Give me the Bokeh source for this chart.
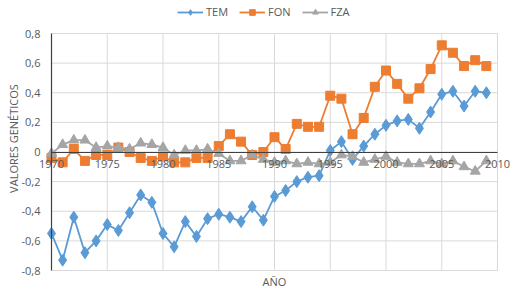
from bokeh.plotting import figure
from bokeh.models import (Range1d, FixedTicker, Legend, LegendItem, LinearAxis, ColumnDataSource)
from bokeh.embed import file_html
from bokeh.resources import INLINE

years = list(range(1970, 2010))
tem = [-0.55, -0.73, -0.44, -0.68, -0.60, -0.49, -0.53, -0.41, -0.29, -0.34,
       -0.55, -0.64, -0.47, -0.57, -0.45, -0.42, -0.44, -0.47, -0.37, -0.46,
       -0.30, -0.26, -0.20, -0.17, -0.16, 0.01, 0.07, -0.05, 0.04, 0.12,
       0.18, 0.21, 0.22, 0.16, 0.27, 0.39, 0.41, 0.31, 0.41, 0.40]
fon = [-0.04, -0.07, 0.02, -0.06, -0.02, -0.02, 0.03, 0.00, -0.04, -0.06,
       -0.03, -0.07, -0.07, -0.04, -0.04, 0.04, 0.12, 0.07, -0.02, 0.00,
       0.10, 0.02, 0.19, 0.17, 0.17, 0.38, 0.36, 0.12, 0.23, 0.44,
       0.55, 0.46, 0.36, 0.43, 0.56, 0.72, 0.67, 0.58, 0.62, 0.58]
fza = [-0.01, 0.05, 0.08, 0.08, 0.03, 0.04, 0.03, 0.02, 0.06, 0.05,
       0.03, -0.02, 0.01, 0.01, 0.02, -0.01, -0.06, -0.06, -0.02, -0.05,
       -0.07, -0.06, -0.08, -0.07, -0.08, -0.07, -0.02, -0.03, -0.07, -0.05,
       -0.03, -0.07, -0.08, -0.08, -0.06, -0.08, -0.06, -0.10, -0.13, -0.06]
x_ticks = [1970, 1975, 1980, 1985, 1990, 1995, 2000, 2005, 2010]
y_ticks = [-0.8, -0.6, -0.4, -0.2, 0.0, 0.2, 0.4, 0.6, 0.8]
y_labels = ["-0,8", "-0,6", "-0,4", "-0,2", "0", "0,2", "0,4", "0,6", "0,8"]
series_names = ["TEM", "FON", "FZA"]
colors = ["#5B9BD5", "#ED7D31", "#A5A5A5"]

FONT = "Open Sans"
GRAY = "#595959"
AXIS = "#404040"
GRID = "#D9D9D9"

X0, X1 = 1970, 2010
Y0, Y1 = -0.8, 0.8
# plot area: x 51..497 px, y 33..270 px inside a 518x292 frame
pxx = (497 - 51) / (X1 - X0)
pxy = (270 - 33) / (Y1 - Y0)
x_range = Range1d(X0 - 51 / pxx, X1 + (518 - 497) / pxx)
y_range = Range1d(Y0 - (292 - 270) / pxy, Y1 + 33 / pxy)

p = figure(width=518, height=292, output_backend="svg", toolbar_location=None,
           x_axis_location=None, y_axis_location=None,
           x_range=x_range, y_range=y_range,
           min_border_left=0, min_border_right=0, min_border_top=0, min_border_bottom=0)
p.outline_line_color = None
p.background_fill_color = "white"
p.border_fill_color = "white"
p.grid.visible = False

# gridlines
nx, ny = len(x_ticks), len(y_ticks)
p.segment(x0=x_ticks, y0=[Y0] * nx, x1=x_ticks, y1=[Y1] * nx,
          line_color=GRID, line_width=1, level="underlay")
p.segment(x0=[X0] * ny, y0=y_ticks, x1=[X1] * ny, y1=y_ticks,
          line_color=GRID, line_width=1, level="underlay")

src = ColumnDataSource(dict(x=years, tem=tem, fon=fon, fza=fza))

l1 = p.line("x", "tem", source=src, line_color=colors[0], line_width=1.8)
m1 = p.scatter("x", "tem", source=src, marker="diamond", size=12, fill_color=colors[0], line_color=colors[0])
l2 = p.line("x", "fon", source=src, line_color=colors[1], line_width=1.8)
m2 = p.scatter("x", "fon", source=src, marker="square", size=9, fill_color=colors[1], line_color=colors[1])
l3 = p.line("x", "fza", source=src, line_color=colors[2], line_width=1.8)
m3 = p.scatter("x", "fza", source=src, marker="triangle", size=10, fill_color=colors[2], line_color=colors[2])

# x axis crossing at y = 0
xa = LinearAxis(fixed_location=0, bounds=(X0, X1), ticker=FixedTicker(ticks=x_ticks))
xa.axis_line_color = AXIS
xa.axis_line_width = 1.2
xa.major_tick_line_color = None
xa.minor_tick_line_color = None
xa.major_tick_out = 0
xa.major_tick_in = 0
xa.major_label_standoff = 8
xa.major_label_text_font = FONT
xa.major_label_text_font_size = "11px"
xa.major_label_text_color = GRAY
p.add_layout(xa, "below")

# axis title at the bottom of the plot area
xl = LinearAxis(fixed_location=Y0, bounds=(X0, X1), ticker=FixedTicker(ticks=[]), axis_label="AÑO")
xl.axis_line_color = None
xl.major_tick_line_color = None
xl.minor_tick_line_color = None
xl.major_tick_out = 0
xl.major_tick_in = 0
xl.major_label_text_font_size = "0px"
xl.major_label_standoff = 0
xl.axis_label_standoff = 3
xl.axis_label_text_font = FONT
xl.axis_label_text_font_size = "11px"
xl.axis_label_text_font_style = "normal"
xl.axis_label_text_color = GRAY
p.add_layout(xl, "below")

# y axis at x = 1970
ya = LinearAxis(fixed_location=X0, bounds=(Y0, Y1), ticker=FixedTicker(ticks=y_ticks))
ya.major_label_overrides = {t: l for t, l in zip(y_ticks, y_labels)}
ya.axis_line_color = AXIS
ya.axis_line_width = 1.2
ya.major_tick_line_color = None
ya.minor_tick_line_color = None
ya.major_tick_out = 0
ya.major_tick_in = 0
ya.major_label_standoff = 11
ya.major_label_text_font = FONT
ya.major_label_text_font_size = "11px"
ya.major_label_text_color = GRAY
p.add_layout(ya, "left")

# y axis title (centred a little above the axis middle, as in the original)
yl = LinearAxis(fixed_location=X0, bounds=(-0.62, Y1), ticker=FixedTicker(ticks=[]),
                axis_label="VALORES GENÉTICOS")
yl.axis_line_color = None
yl.major_tick_line_color = None
yl.minor_tick_line_color = None
yl.major_tick_out = 0
yl.major_tick_in = 0
yl.major_label_text_font_size = "0px"
yl.major_label_standoff = 0
yl.axis_label_standoff = 31
yl.axis_label_text_font = FONT
yl.axis_label_text_font_size = "11px"
yl.axis_label_text_font_style = "normal"
yl.axis_label_text_color = GRAY
p.add_layout(yl, "left")

legend = Legend(items=[LegendItem(label=series_names[0], renderers=[l1, m1]),
                       LegendItem(label=series_names[1], renderers=[l2, m2]),
                       LegendItem(label=series_names[2], renderers=[l3, m3])],
                orientation="horizontal", location=(177, 273),
                glyph_width=26, glyph_height=14, label_height=14, label_standoff=3, spacing=11,
                padding=0, margin=0, border_line_color=None, background_fill_alpha=0,
                label_text_font=FONT, label_text_font_size="11px", label_text_color=GRAY)
p.add_layout(legend)

open("out.html", "w").write(file_html(p, INLINE))
